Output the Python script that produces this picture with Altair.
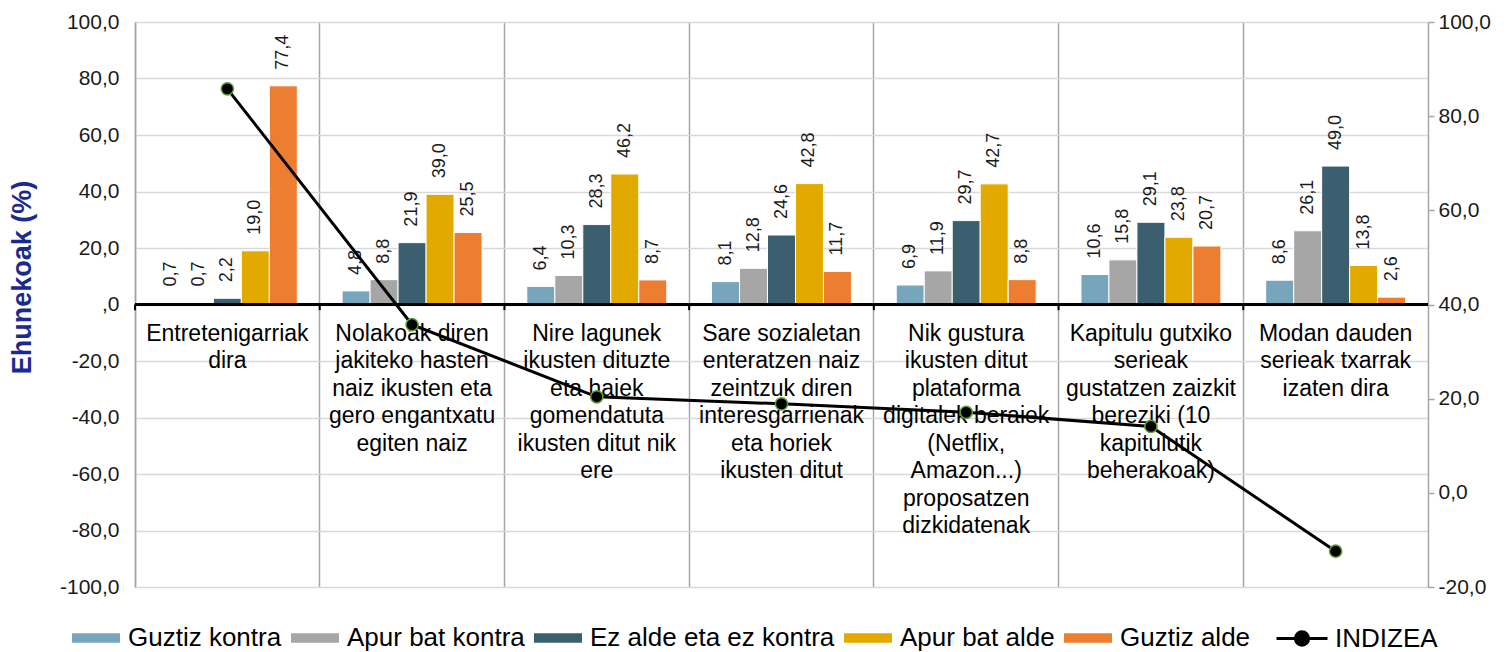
import altair as alt
import pandas as pd

FONT = "Liberation Sans"

categories = [
    "Entretenigarriak dira",
    "Nolakoak diren jakiteko",
    "Nire lagunek",
    "Sare sozialetan",
    "Nik gustura",
    "Kapitulu gutxiko",
    "Modan dauden",
]
category_lines = [
    ["Entretenigarriak", "dira"],
    ["Nolakoak diren", "jakiteko hasten", "naiz ikusten eta", "gero engantxatu", "egiten naiz"],
    ["Nire lagunek", "ikusten dituzte", "eta haiek", "gomendatuta", "ikusten ditut nik", "ere"],
    ["Sare sozialetan", "enteratzen naiz", "zeintzuk diren", "interesgarrienak", "eta horiek", "ikusten ditut"],
    ["Nik gustura", "ikusten ditut", "plataforma", "digitalek beraiek", "(Netflix,", "Amazon...)", "proposatzen", "dizkidatenak"],
    ["Kapitulu gutxiko", "serieak", "gustatzen zaizkit", "bereziki (10", "kapitulutik", "beherakoak)"],
    ["Modan dauden", "serieak txarrak", "izaten dira"],
]
series = ["Guztiz kontra", "Apur bat kontra", "Ez alde eta ez kontra", "Apur bat alde", "Guztiz alde"]
colors = ["#77A5BC", "#A6A6A6", "#3C5F6F", "#E2AA00", "#ED7D31"]

guztiz_kontra = [0.7, 4.8, 6.4, 8.1, 6.9, 10.6, 8.6]
apur_bat_kontra = [0.7, 8.8, 10.3, 12.8, 11.9, 15.8, 26.1]
ez_alde_ez_kontra = [2.2, 21.9, 28.3, 24.6, 29.7, 29.1, 49.0]
apur_bat_alde = [19.0, 39.0, 46.2, 42.8, 42.7, 23.8, 13.8]
guztiz_alde = [77.4, 25.5, 8.7, 11.7, 8.8, 20.7, 2.6]
indizea = [85.8, 35.7, 20.4, 18.9, 17.1, 14.1, -12.4]

left_ticks = [-100, -80, -60, -40, -20, 0, 20, 40, 60, 80, 100]
right_ticks = [-20, 0, 20, 40, 60, 80, 100]

series_values = [guztiz_kontra, apur_bat_kontra, ez_alde_ez_kontra, apur_bat_alde, guztiz_alde]
rows = []
for s, vals in zip(series, series_values):
    for c, v in zip(categories, vals):
        rows.append({"cat": c, "series": s, "value": v})
bars_df = pd.DataFrame(rows)

cat_df = pd.DataFrame({
    "cat": categories,
    "label": ["\n".join(l) for l in category_lines],
    "indizea": indizea,
    "serie": ["INDIZEA"] * len(categories),
})

NUM_EXPR = "replace(replace(format(datum.value, '.1f'), '.', ','), '\u2212', '-')"

x_axis = alt.Axis(grid=True, bandPosition=0, gridColor="#A6A6A6", gridWidth=1.5,
                  labels=False, ticks=False, domain=False, title=None)
x_scale = alt.Scale(domain=categories, paddingInner=0, paddingOuter=0)
x_enc = alt.X("cat:N", sort=categories, scale=x_scale, axis=x_axis)
xoff = alt.XOffset("series:N", sort=series, scale=alt.Scale(domain=series, paddingOuter=0.8, paddingInner=0))

left_axis = alt.Axis(
    values=left_ticks, grid=True, gridColor="#D9D9D9", gridWidth=1.5,
    ticks=False, domainColor="#A6A6A6", domainWidth=1.5,
    labelFont=FONT, labelFontSize=21, labelColor="#1a1a1a", labelPadding=16,
    labelExpr="datum.value == 0 ? ',0' : " + NUM_EXPR,
    title="Ehunekoak (%)", titleFont=FONT, titleFontSize=27, titleFontWeight="bold",
    titleColor="#1B2A8E", titleX=-113, titleY=255, titleAngle=270,
    titleAlign="center", titleBaseline="middle",
)
y_left = alt.Y("value:Q", scale=alt.Scale(domain=[-100, 100], nice=False, zero=False), axis=left_axis)

bars = alt.Chart(bars_df).mark_bar(stroke="white", strokeWidth=1).encode(
    x=x_enc,
    xOffset=xoff,
    y=y_left,
    color=alt.Color(
        "series:N", sort=series, scale=alt.Scale(domain=series, range=colors),
        legend=alt.Legend(
            orient="none", legendX=-63, legendY=592, direction="horizontal", title=None,
            symbolType="M-1,-0.2H1V0.2H-1Z", symbolSize=2304, symbolStrokeWidth=0,
            labelFont=FONT, labelFontSize=26, labelColor="black", labelOffset=8,
            columnPadding=9, labelLimit=0,
        ),
    ),
)

bar_text = alt.Chart(bars_df).transform_calculate(
    txt="replace(format(datum.value, '.1f'), '.', ',')"
).mark_text(angle=270, align="left", baseline="middle", dx=16, font=FONT, fontSize=18, color="#1a1a1a").encode(
    x=x_enc, xOffset=xoff, y=y_left, text="txt:N"
)

zero_rule = alt.Chart(cat_df).mark_rule(color="black", strokeWidth=3).encode(y=alt.datum(0))

zero_ticks = alt.Chart(cat_df).mark_rule(color="black", strokeWidth=2).encode(
    x=alt.X("cat:N", sort=categories, scale=x_scale, axis=x_axis, bandPosition=0),
    y=alt.datum(0), y2=alt.datum(-2),
)

cat_text = alt.Chart(cat_df).mark_text(
    align="center", baseline="top", dy=18, font=FONT, fontSize=23, lineHeight=27.5,
    lineBreak="\n", color="black",
).encode(x=x_enc, y=alt.datum(0), text="label:N")

left = alt.layer(bars, bar_text, zero_rule, zero_ticks, cat_text)

right_axis = alt.Axis(
    orient="right", values=right_ticks, grid=False, tickColor="#A6A6A6", tickWidth=1.5, tickSize=6,
    domainColor="#A6A6A6", domainWidth=1.5, labelFont=FONT, labelFontSize=21, labelColor="#1a1a1a",
    labelPadding=4, title=None,
    labelExpr=NUM_EXPR,
)
y_right = alt.Y("indizea:Q", scale=alt.Scale(domain=[-20, 100], nice=False, zero=False), axis=right_axis)

line = alt.Chart(cat_df).mark_line(strokeWidth=3).encode(
    x=x_enc, y=y_right,
    stroke=alt.Stroke(
        "serie:N", scale=alt.Scale(domain=["INDIZEA"], range=["black"]),
        legend=alt.Legend(
            orient="none", legendX=1140, legendY=589.5, direction="horizontal", title=None,
            symbolType="M-1,0H1M0.26,0A0.26,0.26,0,1,1,-0.26,0A0.26,0.26,0,1,1,0.26,0Z",
            symbolSize=2601, symbolStrokeWidth=3, symbolFillColor="black",
            labelFont=FONT, labelFontSize=26, labelColor="black", labelOffset=6, labelLimit=0,
        ),
    ),
)
points = alt.Chart(cat_df).mark_point(filled=True, fill="black", stroke="#5E9E36", strokeWidth=1.5,
                                      size=150, opacity=1).encode(x=x_enc, y=y_right)

right = alt.layer(line, points)

chart = alt.layer(left, right).resolve_scale(y="independent").properties(
    width=1293, height=565,
    padding={"left": 127, "top": 14, "right": 75, "bottom": 75},
    autosize=alt.AutoSizeParams(type="none"),
).configure_view(stroke=None)

chart.save("out.html", embed_options={"renderer": "svg", "actions": False})
